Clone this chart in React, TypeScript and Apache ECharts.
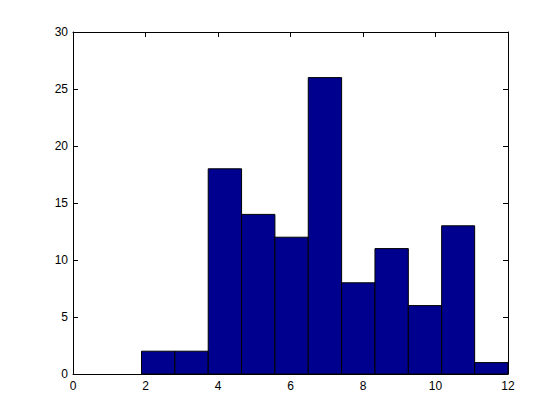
import React, { useEffect, useRef } from "react";
import * as echarts from "echarts";

const binEdges = [1.89, 2.81, 3.73, 4.65, 5.57, 6.49, 7.41, 8.33, 9.25, 10.17, 11.08, 12.0];
const counts = [2, 2, 18, 14, 12, 26, 8, 11, 6, 13, 1];

export default function App() {
  const ref = useRef<HTMLDivElement>(null);
  useEffect(() => {
    const chart = echarts.init(ref.current!, null, { renderer: "svg" });
    const data = counts.map((c, i) => [binEdges[i], binEdges[i + 1], c]);
    const axisCommon = {
      type: "value" as const,
      axisLine: { show: true, onZero: false, lineStyle: { color: "#000", width: 1 } },
      axisTick: { show: true, inside: true, length: 5, lineStyle: { color: "#000" } },
      splitLine: { show: false },
    };
    const labelStyle = { color: "#000", fontSize: 12, fontFamily: "Arial, Liberation Sans, sans-serif" };
    chart.setOption({
      animation: false,
      backgroundColor: "#fff",
      grid: { left: 73, top: 32, right: 52, bottom: 46 },
      xAxis: [
        { ...axisCommon, min: 0, max: 12, interval: 2, position: "bottom", axisLabel: { ...labelStyle, margin: 6 } },
        { ...axisCommon, min: 0, max: 12, interval: 2, position: "top", axisLabel: { show: false } },
      ],
      yAxis: [
        { ...axisCommon, min: 0, max: 30, interval: 5, position: "left", axisLabel: { ...labelStyle, margin: 5 } },
        { ...axisCommon, min: 0, max: 30, interval: 5, position: "right", axisLabel: { show: false } },
      ],
      series: [
        {
          type: "custom",
          xAxisIndex: 0,
          yAxisIndex: 0,
          data,
          renderItem: (params: any, api: any) => {
            const p0 = api.coord([api.value(0), api.value(2)]);
            const p1 = api.coord([api.value(1), 0]);
            return {
              type: "rect",
              shape: { x: p0[0], y: p0[1], width: p1[0] - p0[0], height: p1[1] - p0[1] },
              style: { fill: "#00008F", stroke: "#000", lineWidth: 1 },
            };
          },
        },
      ],
    });
    return () => chart.dispose();
  }, []);
  return <div ref={ref} style={{ width: 560, height: 420, position: "absolute", left: 0, top: 0 }} />;
}
